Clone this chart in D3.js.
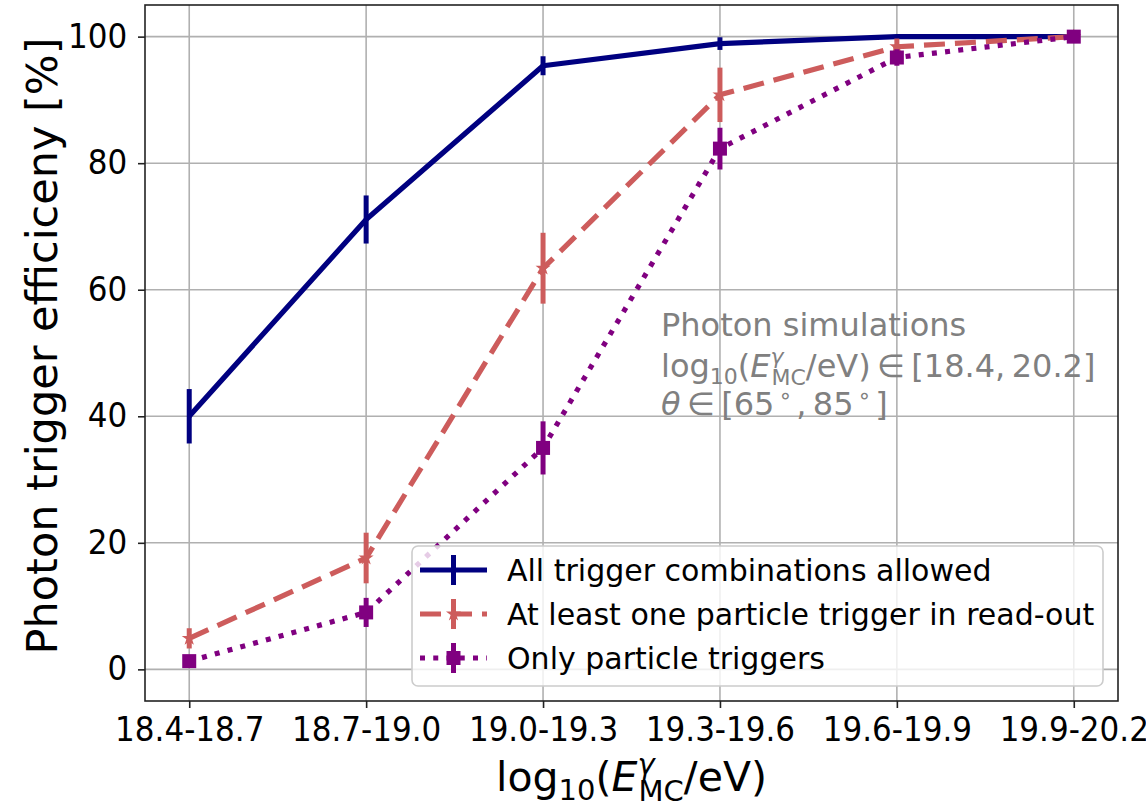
<!DOCTYPE html>
<html lang="en">
<head>
<meta charset="UTF-8">
<title>Photon trigger efficiency</title>
<script src="https://d3js.org/d3.v7.min.js"></script>
<style>
  body { margin: 0; background: #fff; }
  text { font-family: "DejaVu Sans", sans-serif; }
</style>
</head>
<body>
<svg width="1146" height="806"></svg>
<script>
    // data
    const categories = ["18.4-18.7", "18.7-19.0", "19.0-19.3", "19.3-19.6", "19.6-19.9", "19.9-20.2"];
    const allTrig = [40.0, 71.1, 95.4, 98.9, 100, 100];
    const allTrigErr = [4.3, 3.8, 1.5, 1.0, 0.2, 0];
    const oneParticle = [4.9, 17.6, 63.4, 90.8, 98.4, 100];
    const oneParticleErr = [1.6, 4.0, 5.6, 4.3, 1.3, 0];
    const onlyParticle = [1.3, 9.0, 35.0, 82.3, 96.7, 100];
    const onlyParticleErr = [0.5, 2.3, 4.2, 3.3, 1.3, 0];
    const yTicks = [0, 20, 40, 60, 80, 100];
    const legendLabels = ["All trigger combinations allowed", "At least one particle trigger in read-out", "Only particle triggers"];

    const width = 1146, height = 806;
    const margin = {top: 5, right: 28, bottom: 105, left: 145};
    const svg = d3.select('svg').attr('width', width).attr('height', height);

    const x = d3.scaleLinear().domain([-0.25, 5.25]).range([margin.left, width - margin.right]);
    const y = d3.scaleLinear().domain([-5, 105]).range([height - margin.bottom, margin.top]);

    // grid
    svg.append('g').selectAll('line.vg').data(d3.range(categories.length)).enter()
        .append('line')
        .attr('x1', d => x(d)).attr('x2', d => x(d))
        .attr('y1', y(-5)).attr('y2', y(105))
        .style('stroke', '#b0b0b0').style('stroke-width', 1.6);
    svg.append('g').selectAll('line.hg').data(yTicks).enter()
        .append('line')
        .attr('x1', x(-0.25)).attr('x2', x(5.25))
        .attr('y1', d => y(d)).attr('y2', d => y(d))
        .style('stroke', '#b0b0b0').style('stroke-width', 1.6);

    svg.append('clipPath').attr('id', 'plot')
        .append('rect').attr('x', x(-0.25)).attr('y', y(105))
        .attr('width', x(5.25) - x(-0.25)).attr('height', y(-5) - y(105));

    const series = [
        {vals: allTrig, err: allTrigErr, color: '#000080', dash: null, marker: null},
        {vals: oneParticle, err: oneParticleErr, color: '#cd5c5c', dash: '21,10', marker: 'star'},
        {vals: onlyParticle, err: onlyParticleErr, color: '#800080', dash: '5,8.25', marker: 'square'}
    ];

    const plot = svg.append('g').attr('clip-path', 'url(#plot)');
    const line = d3.line().x((d, i) => x(i)).y(d => y(d));

    function drawMarker(g, type, cx, cy, color) {
        if (type === 'square') {
            g.append('rect').attr('x', cx - 7).attr('y', cy - 7).attr('width', 14).attr('height', 14)
                .style('fill', color);
        } else if (type === 'star') {
            g.append('path').attr('d', d3.symbol().type(d3.symbolStar).size(70)())
                .attr('transform', `translate(${cx},${cy})`).style('fill', color);
        }
    }

    series.forEach(function(s) {
        plot.append('path')
            .attr('d', line(s.vals))
            .style('fill', 'none')
            .style('stroke', s.color)
            .style('stroke-width', 5.2)
            .style('stroke-dasharray', s.dash)
            .style('stroke-linejoin', 'round');
        s.vals.forEach(function(v, i) {
            if (s.err[i] > 0) {
                plot.append('line')
                    .attr('x1', x(i)).attr('x2', x(i))
                    .attr('y1', y(v - s.err[i])).attr('y2', y(v + s.err[i]))
                    .style('stroke', s.color).style('stroke-width', 5);
            }
            drawMarker(plot, s.marker, x(i), y(v), s.color);
        });
    });

    // axes
    const xAxis = svg.append('g')
        .attr('transform', `translate(0,${height - margin.bottom})`)
        .call(d3.axisBottom(x).tickValues(d3.range(categories.length))
            .tickFormat(i => categories[i]).tickSize(7).tickPadding(10));
    const yAxis = svg.append('g')
        .attr('transform', `translate(${margin.left},0)`)
        .call(d3.axisLeft(y).tickValues(yTicks).tickSize(7));
    [xAxis, yAxis].forEach(function(a) {
        a.select('.domain').remove();
        a.selectAll('.tick line').style('stroke', '#222').style('stroke-width', 1.6);
        a.selectAll('.tick text').style('font-size', '33px').style('fill', '#000')
            .attr('transform', 'scale(0.94,1)');
    });
    yAxis.selectAll('.tick text').attr('x', -19);

    svg.append('rect')
        .attr('x', x(-0.25)).attr('y', y(105))
        .attr('width', x(5.25) - x(-0.25)).attr('height', y(-5) - y(105))
        .style('fill', 'none').style('stroke', '#222').style('stroke-width', 1.6);

    // axis labels
    const xl = svg.append('text')
        .attr('x', (x(-0.25) + x(5.25)) / 2).attr('y', 791)
        .style('text-anchor', 'middle').style('font-size', '41px').style('fill', '#000');
    xl.append('tspan').text('log');
    xl.append('tspan').text('10').style('font-size', '29px').attr('dy', 9);
    xl.append('tspan').text('(').attr('dy', -9);
    xl.append('tspan').text('E').style('font-style', 'italic');
    xl.append('tspan').text('γ').style('font-style', 'italic').style('font-size', '29px').attr('dy', -17);
    xl.append('tspan').text('MC').style('font-size', '29px').attr('dx', -16).attr('dy', 27);
    xl.append('tspan').text('/eV)').attr('dy', -10);

    svg.append('text')
        .attr('transform', `translate(57,346) rotate(-90)`)
        .style('text-anchor', 'middle').style('font-size', '43px').style('fill', '#000')
        .text('Photon trigger efficiceny [%]');

    // annotation
    const ann = svg.append('g').style('fill', '#808080').style('font-size', '32px');
    ann.append('text').attr('x', 661).attr('y', 336).text('Photon simulations');
    const a2 = ann.append('text').attr('x', 661).attr('y', 377);
    a2.append('tspan').text('log');
    a2.append('tspan').text('10').style('font-size', '22px').attr('dy', 7);
    a2.append('tspan').text('(').attr('dy', -7);
    a2.append('tspan').text('E').style('font-style', 'italic');
    a2.append('tspan').text('γ').style('font-style', 'italic').style('font-size', '22px').attr('dy', -13);
    a2.append('tspan').text('MC').style('font-size', '22px').attr('dx', -12).attr('dy', 21);
    a2.append('tspan').text('/eV)\u2009∈\u2009[18.4,\u200920.2]').attr('dy', -8);
    const a3 = ann.append('text').attr('x', 661).attr('y', 415);
    a3.append('tspan').text('θ').style('font-style', 'italic');
    a3.append('tspan').text('\u2009∈\u2009[65');
    a3.append('tspan').text('∘').style('font-size', '22px').attr('dx', 4).attr('dy', -12);
    a3.append('tspan').text(',\u200985').attr('dx', 4).attr('dy', 12);
    a3.append('tspan').text('∘').style('font-size', '22px').attr('dx', 4).attr('dy', -12);
    a3.append('tspan').text(']').attr('dx', 4).attr('dy', 12);

    // legend
    const lg = svg.append('g');
    lg.append('rect').attr('x', 412).attr('y', 546).attr('width', 691).attr('height', 140)
        .attr('rx', 6).style('fill', '#fff').style('fill-opacity', 0.8)
        .style('stroke', '#cccccc').style('stroke-width', 1.6);
    series.forEach(function(s, i) {
        const cy = 570 + i * 44;
        lg.append('line').attr('x1', 420).attr('x2', 487).attr('y1', cy).attr('y2', cy)
            .style('stroke', s.color).style('stroke-width', 5).style('stroke-dasharray', s.dash);
        lg.append('line').attr('x1', 453.5).attr('x2', 453.5).attr('y1', cy - 15).attr('y2', cy + 15)
            .style('stroke', s.color).style('stroke-width', 5);
        drawMarker(lg, s.marker, 453.5, cy, s.color);
        lg.append('text').attr('x', 507).attr('y', cy + 11)
            .style('font-size', '30px').style('fill', '#000').text(legendLabels[i]);
    });
</script>
</body>
</html>
